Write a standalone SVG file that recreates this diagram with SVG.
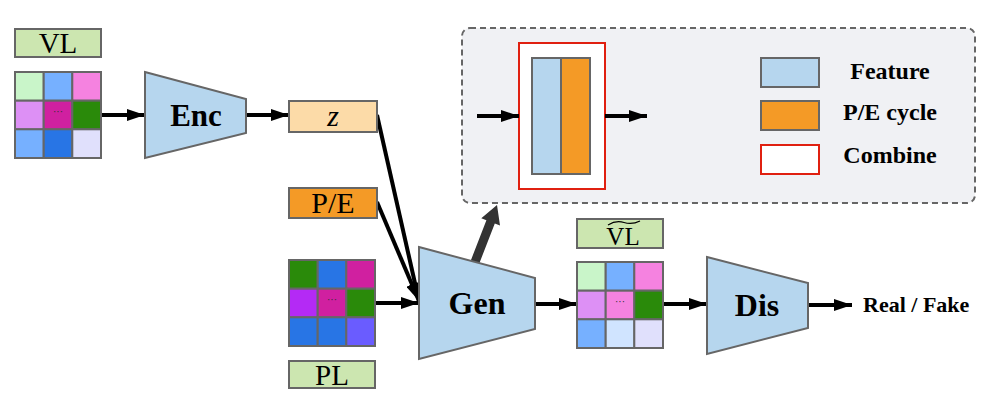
<svg xmlns="http://www.w3.org/2000/svg" width="997" height="406" viewBox="0 0 997 406">
<style>
.lbl{fill:#cce6b0;stroke:#666;stroke-width:2}
.cell{stroke:#666;stroke-width:2}
.trap{fill:#b6d6ee;stroke:#666;stroke-width:2}
.serif{font-family:"Liberation Serif","Times New Roman",serif;fill:#000}
.bold{font-weight:bold}
.conn{stroke:#000;stroke-width:4;fill:none}
.dots{font-family:"Liberation Sans",Arial,sans-serif;font-size:10px;fill:#333}
</style>
<defs>
<marker id="ah" markerUnits="userSpaceOnUse" markerWidth="18" markerHeight="12" refX="18" refY="6" orient="auto">
<path d="M0,0 L18,6 L0,12 z" fill="#000"/>
</marker>
</defs>
<rect width="997" height="406" fill="#fff"/>

<g id="combine-panel">
<rect x="462" y="28" width="513" height="175" rx="8" fill="#f0f1f4" stroke="#666" stroke-width="2" stroke-dasharray="6,4"/>
<rect x="519" y="43" width="86" height="146" fill="#fff" stroke="#e02010" stroke-width="2"/>
<rect x="532" y="58" width="29" height="116" fill="#b6d6ee" stroke="#666" stroke-width="2"/>
<rect x="561" y="58" width="29" height="116" fill="#f49a26" stroke="#666" stroke-width="2"/>
</g>
<g id="legend">
<rect x="761" y="58" width="58" height="29" fill="#b6d6ee" stroke="#666" stroke-width="2"/>
<rect x="761" y="101" width="58" height="29" fill="#f49a26" stroke="#666" stroke-width="2"/>
<rect x="761" y="145" width="58" height="29" fill="#fff" stroke="#e02010" stroke-width="2"/>
<text class="serif bold" x="890" y="79" font-size="24" text-anchor="middle">Feature</text>
<text class="serif bold" x="890" y="120" font-size="24" text-anchor="middle">P/E cycle</text>
<text class="serif bold" x="890" y="163" font-size="24" text-anchor="middle">Combine</text>
</g>

<g id="connectors">
<line class="conn" x1="101" y1="115" x2="145" y2="115" marker-end="url(#ah)"/>
<line class="conn" x1="246" y1="115" x2="289" y2="115" marker-end="url(#ah)"/>
<line class="conn" x1="377" y1="115" x2="419" y2="301" marker-end="url(#ah)"/>
<line class="conn" x1="377" y1="202" x2="419" y2="301" marker-end="url(#ah)"/>
<line class="conn" x1="375" y1="303" x2="419" y2="303" marker-end="url(#ah)"/>
<line class="conn" x1="535" y1="304" x2="577" y2="304" marker-end="url(#ah)"/>
<line class="conn" x1="663" y1="304" x2="707" y2="304" marker-end="url(#ah)"/>
<line class="conn" x1="808" y1="305" x2="852" y2="305" marker-end="url(#ah)"/>
<line class="conn" x1="477" y1="116" x2="519" y2="116" marker-end="url(#ah)"/>
<line class="conn" x1="605" y1="116" x2="647" y2="116" marker-end="url(#ah)"/>
<polygon points="465.8,273.4 486.4,220.2 481.3,218.3 497,205 500,225.4 494.8,223.4 474.2,276.6" fill="#333"/>
</g>

<g id="vl-label">
<rect class="lbl" x="15" y="29" width="86" height="28"/>
<text class="serif" x="58" y="53" font-size="29" text-anchor="middle">VL</text>
</g>
<g id="vl-grid">
<rect class="cell" x="15" y="72" width="28.7" height="28.7" fill="#c9f5c9"/>
<rect class="cell" x="43.7" y="72" width="28.7" height="28.7" fill="#76b0ff"/>
<rect class="cell" x="72.3" y="72" width="28.7" height="28.7" fill="#f582e0"/>
<rect class="cell" x="15" y="100.7" width="28.7" height="28.7" fill="#dd90f5"/>
<rect class="cell" x="43.7" y="100.7" width="28.7" height="28.7" fill="#d020a0"/>
<rect class="cell" x="72.3" y="100.7" width="28.7" height="28.7" fill="#2a8a0a"/>
<rect class="cell" x="15" y="129.3" width="28.7" height="28.7" fill="#76b0ff"/>
<rect class="cell" x="43.7" y="129.3" width="28.7" height="28.7" fill="#2875e5"/>
<rect class="cell" x="72.3" y="129.3" width="28.7" height="28.7" fill="#e0e0fc"/>
<text class="dots" x="58" y="115" text-anchor="middle">···</text>
</g>
<g id="enc">
<polygon class="trap" points="145,72 246,99 246,133 145,158"/>
<text class="serif bold" x="196" y="126" font-size="31" text-anchor="middle">Enc</text>
</g>
<g id="z">
<rect x="289" y="101" width="88" height="31" fill="#fcdba8" stroke="#666" stroke-width="2"/>
<text class="serif" x="333" y="126" font-size="30" font-style="italic" text-anchor="middle">z</text>
</g>
<g id="pe">
<rect x="289" y="188" width="88" height="30" fill="#f49a26" stroke="#666" stroke-width="2"/>
<text class="serif" x="333" y="213" font-size="30" text-anchor="middle">P/E</text>
</g>
<g id="pl-grid">
<rect class="cell" x="289" y="260" width="28.7" height="28.7" fill="#2a8a0a"/>
<rect class="cell" x="317.7" y="260" width="28.7" height="28.7" fill="#2875e5"/>
<rect class="cell" x="346.3" y="260" width="28.7" height="28.7" fill="#d020a0"/>
<rect class="cell" x="289" y="288.7" width="28.7" height="28.7" fill="#b42af5"/>
<rect class="cell" x="317.7" y="288.7" width="28.7" height="28.7" fill="#d020a0"/>
<rect class="cell" x="346.3" y="288.7" width="28.7" height="28.7" fill="#2a8a0a"/>
<rect class="cell" x="289" y="317.3" width="28.7" height="28.7" fill="#2875e5"/>
<rect class="cell" x="317.7" y="317.3" width="28.7" height="28.7" fill="#2875e5"/>
<rect class="cell" x="346.3" y="317.3" width="28.7" height="28.7" fill="#6a5cff"/>
<text class="dots" x="332" y="303" text-anchor="middle">···</text>
</g>
<g id="pl-label">
<rect class="lbl" x="289" y="361" width="86" height="27"/>
<text class="serif" x="332" y="385" font-size="29" text-anchor="middle">PL</text>
</g>
<g id="gen">
<polygon class="trap" points="419,247 535,278 535,329 419,359"/>
<text class="serif bold" x="477" y="314" font-size="32" text-anchor="middle">Gen</text>
</g>
<g id="vlt-label">
<rect class="lbl" x="577" y="219" width="86" height="29"/>
<text class="serif" x="623" y="245" font-size="25" text-anchor="middle">VL</text>
<path d="M608,225 Q616,220 624,222.5 T640,221" fill="none" stroke="#000" stroke-width="1.2"/>
</g>
<g id="vlt-grid">
<rect class="cell" x="577" y="262" width="28.7" height="28.7" fill="#c9f5c9"/>
<rect class="cell" x="605.7" y="262" width="28.7" height="28.7" fill="#76b0ff"/>
<rect class="cell" x="634.3" y="262" width="28.7" height="28.7" fill="#f582e0"/>
<rect class="cell" x="577" y="290.7" width="28.7" height="28.7" fill="#dd90f5"/>
<rect class="cell" x="605.7" y="290.7" width="28.7" height="28.7" fill="#f582e0"/>
<rect class="cell" x="634.3" y="290.7" width="28.7" height="28.7" fill="#2a8a0a"/>
<rect class="cell" x="577" y="319.3" width="28.7" height="28.7" fill="#76b0ff"/>
<rect class="cell" x="605.7" y="319.3" width="28.7" height="28.7" fill="#d0e4ff"/>
<rect class="cell" x="634.3" y="319.3" width="28.7" height="28.7" fill="#e0e0fc"/>
<text class="dots" x="620" y="305" text-anchor="middle">···</text>
</g>
<g id="dis">
<polygon class="trap" points="707,257 808,283 808,328 707,354"/>
<text class="serif bold" x="757" y="316" font-size="32" text-anchor="middle">Dis</text>
</g>
<g id="output">
<text class="serif bold" x="863" y="312" font-size="22">Real / Fake</text>
</g>
</svg>
